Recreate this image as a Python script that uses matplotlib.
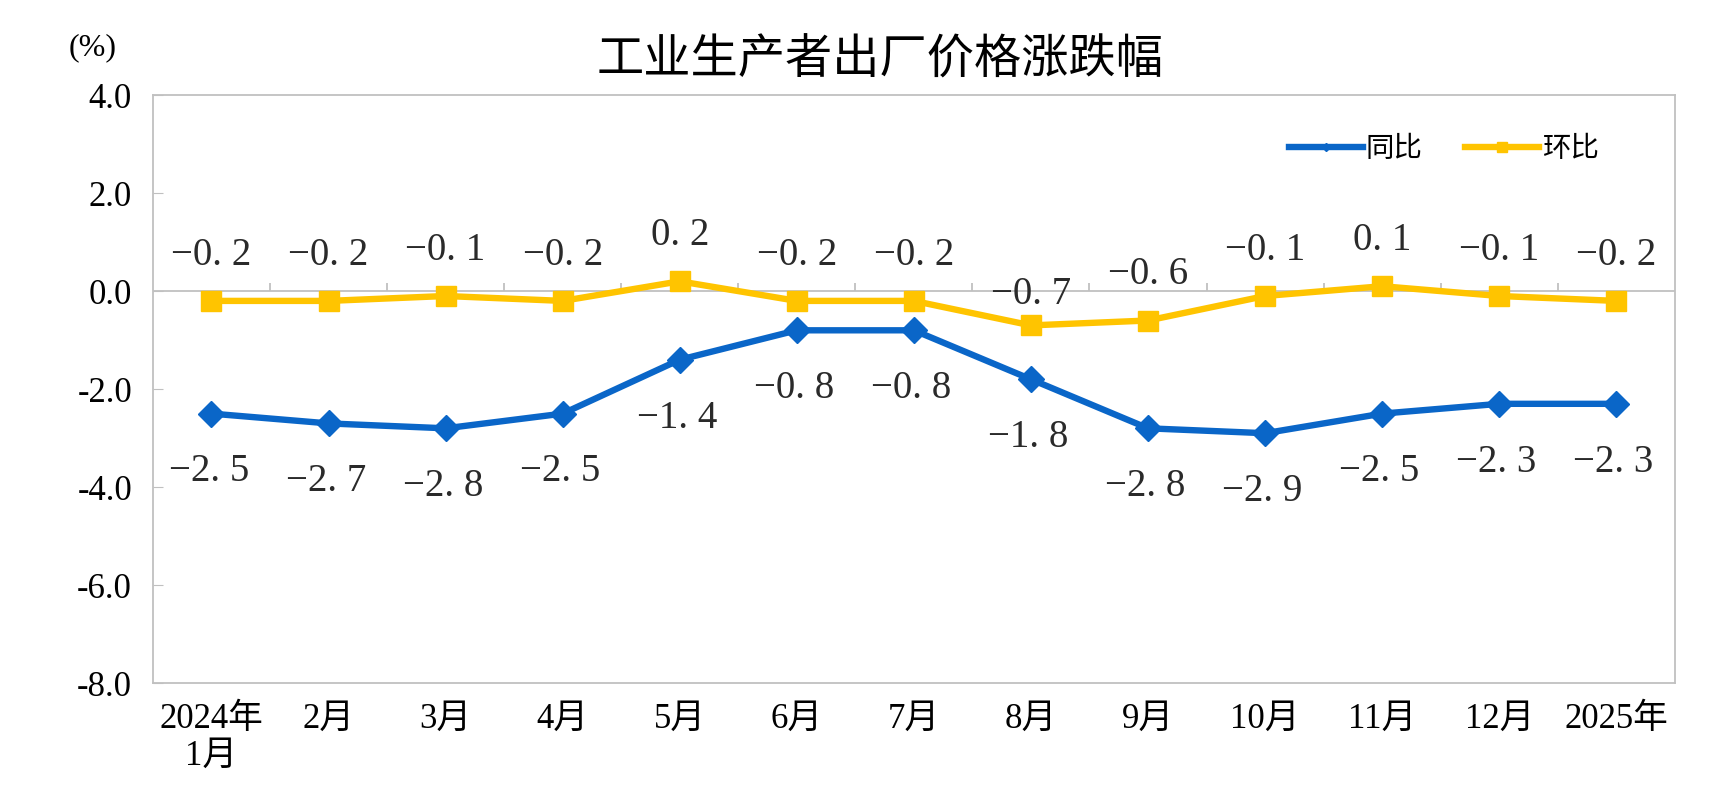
import numpy as np
import matplotlib
matplotlib.use("Agg")
import matplotlib.pyplot as plt
from matplotlib.lines import Line2D

# 数据
months = ["2024年\n1月", "2月", "3月", "4月", "5月", "6月", "7月",
          "8月", "9月", "10月", "11月", "12月", "2025年"]
yoy = [-2.5, -2.7, -2.8, -2.5, -1.4, -0.8, -0.8, -1.8, -2.8, -2.9, -2.5, -2.3, -2.3]
mom = [-0.2, -0.2, -0.1, -0.2, 0.2, -0.2, -0.2, -0.7, -0.6, -0.1, 0.1, -0.1, -0.2]
y_ticks = [-8.0, -6.0, -4.0, -2.0, 0.0, 2.0, 4.0]

BLUE = "#0a66c8"
GOLD = "#ffc400"
GRAY = "#c0c0c0"
serif = ["Liberation Serif", "Noto Sans CJK SC"]
cjk = ["Noto Sans CJK SC", "DejaVu Sans"]


def fmt(v):
    # 模仿宋体的宽间距数字
    s = f"{abs(v):.1f}".replace(".", ". ")
    return ("\u2212" + s) if v < 0 else s


fig = plt.figure(figsize=(17.09, 7.99), dpi=100)
ax = fig.add_axes([0.0895, 0.145, 0.8905, 0.736])

x = np.arange(len(months))
ax.plot(x, mom, color=GOLD, lw=4.6, marker="s", ms=14, zorder=3)
ax.plot(x, yoy, color=BLUE, lw=4.6, marker="D", ms=13, zorder=3)

ax.set_xlim(-0.5, len(months) - 0.5)
ax.set_ylim(-8, 4)

# 零线及分类刻度
ax.axhline(0, color=GRAY, lw=1.3, zorder=1)
ax.vlines(np.arange(0.5, len(months) - 1), 0, 0.17, color=GRAY, lw=1.3, zorder=1)

for s in ax.spines.values():
    s.set_color(GRAY)
    s.set_linewidth(1.3)

ax.set_yticks(y_ticks)
ax.set_yticklabels([f"{t:.1f}" for t in y_ticks], fontfamily=serif, fontsize=25)
ax.tick_params(axis="y", direction="in", length=7, color=GRAY, pad=15)
ax.set_xticks(x)
ax.set_xticklabels(months, fontfamily=serif, fontsize=25, linespacing=1.15,
                   va="top")
ax.tick_params(axis="x", length=0, pad=14)

# 数据标签
for i, v in enumerate(mom):
    off = 22 if v == -0.7 else 33
    ax.annotate(fmt(v), (i, v), xytext=(0, off), textcoords="offset points",
                ha="center", va="center", fontsize=28, fontfamily=serif, color="#2a2a2a")
for i, v in enumerate(yoy):
    ax.annotate(fmt(v), (i, v), xytext=(-2, -42), textcoords="offset points",
                ha="center", va="center", fontsize=28, fontfamily=serif, color="#2a2a2a")

# 图例
handles = [Line2D([], [], color=BLUE, lw=4.6, marker="D", ms=4),
           Line2D([], [], color=GOLD, lw=4.6, marker="s", ms=7)]
ax.legend(handles, ["同比", "环比"], loc="upper right", bbox_to_anchor=(0.967, 0.978),
          ncol=2, frameon=False, handlelength=2.6, handletextpad=0.1,
          columnspacing=1.5, prop={"family": cjk, "size": 20.5})

fig.text(0.515, 0.925, "工业生产者出厂价格涨跌幅", ha="center", va="center",
         fontsize=34, fontfamily=cjk, fontweight="medium")
fig.text(0.054, 0.94, "(%)", ha="center", va="center", fontsize=23, fontfamily=serif)

fig.savefig("out.png", dpi=100)
